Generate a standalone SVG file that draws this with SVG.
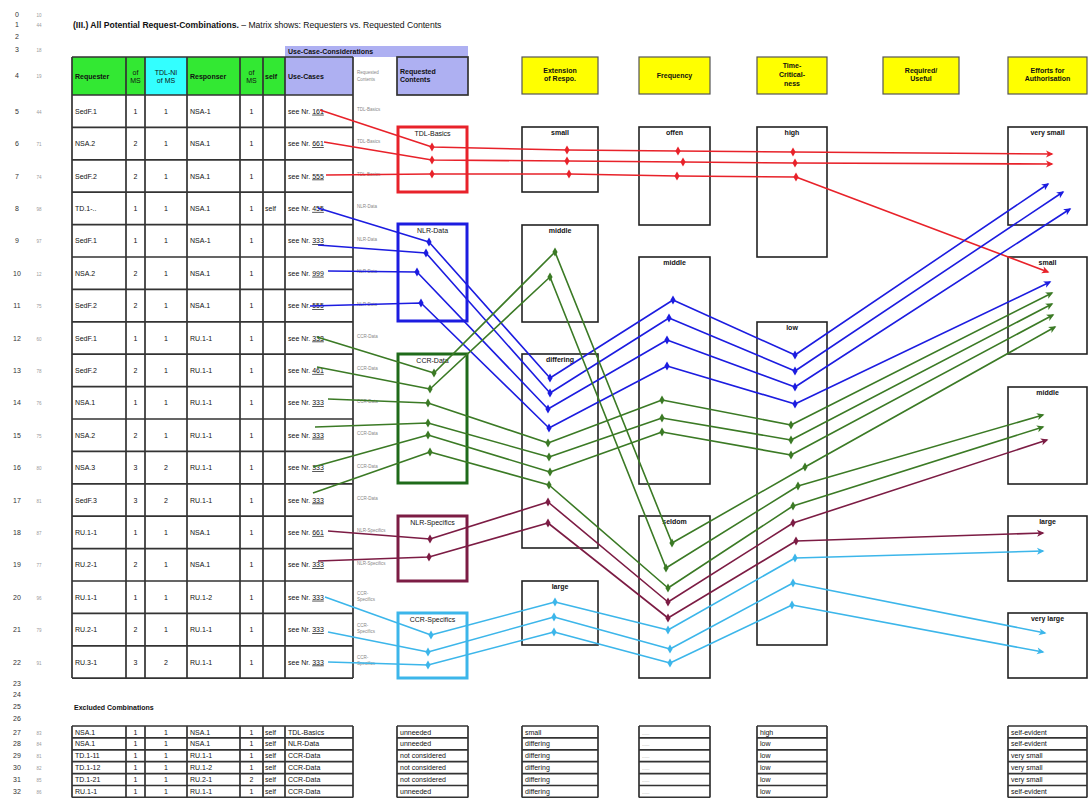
<svg xmlns="http://www.w3.org/2000/svg" width="1088" height="798" viewBox="0 0 1088 798">
<style>
text{font-family:"Liberation Sans",Arial,sans-serif;font-size:7px;fill:#111}
.b{font-weight:bold}
.c{text-anchor:middle}
.ttl{font-size:8.6px}
.rn{font-size:7px;fill:#333;text-anchor:middle}
.rg{font-size:4.5px;fill:#999;text-anchor:middle}
.gs{font-size:4.5px;fill:#888}
.grid{fill:none;stroke:#333;stroke-width:1.7}
.box{fill:#fff;stroke:#222;stroke-width:1.6}
.hd{fill:#ffff00;stroke:#555;stroke-width:1.2}
.u{text-decoration:underline}
.l{fill:none;stroke-width:1.6;stroke-linejoin:round}
.red{stroke:#e8222a}.blu{stroke:#1c1ce0}.grn{stroke:#3b7a25}.mar{stroke:#7c1c44}.cya{stroke:#3cb6ea}
</style>
<defs>
<marker id="dR" viewBox="-3 -5 6 10" markerWidth="6" markerHeight="10" orient="0" markerUnits="userSpaceOnUse"><path d="M0,-4.5L2.6,0L0,4.5L-2.6,0z" fill="#e8222a"/></marker>
<marker id="dB" viewBox="-3 -5 6 10" markerWidth="6" markerHeight="10" orient="0" markerUnits="userSpaceOnUse"><path d="M0,-4.5L2.6,0L0,4.5L-2.6,0z" fill="#1c1ce0"/></marker>
<marker id="dG" viewBox="-3 -5 6 10" markerWidth="6" markerHeight="10" orient="0" markerUnits="userSpaceOnUse"><path d="M0,-4.5L2.6,0L0,4.5L-2.6,0z" fill="#3b7a25"/></marker>
<marker id="dM" viewBox="-3 -5 6 10" markerWidth="6" markerHeight="10" orient="0" markerUnits="userSpaceOnUse"><path d="M0,-4.5L2.6,0L0,4.5L-2.6,0z" fill="#7c1c44"/></marker>
<marker id="dC" viewBox="-3 -5 6 10" markerWidth="6" markerHeight="10" orient="0" markerUnits="userSpaceOnUse"><path d="M0,-4.5L2.6,0L0,4.5L-2.6,0z" fill="#3cb6ea"/></marker>
<marker id="aR" viewBox="-7 -4 9 8" markerWidth="9" markerHeight="8" orient="auto" markerUnits="userSpaceOnUse"><path d="M-6,-3.5L1.5,0L-6,3.5L-4,0z" fill="#e8222a"/></marker>
<marker id="aB" viewBox="-7 -4 9 8" markerWidth="9" markerHeight="8" orient="auto" markerUnits="userSpaceOnUse"><path d="M-6,-3.5L1.5,0L-6,3.5L-4,0z" fill="#1c1ce0"/></marker>
<marker id="aG" viewBox="-7 -4 9 8" markerWidth="9" markerHeight="8" orient="auto" markerUnits="userSpaceOnUse"><path d="M-6,-3.5L1.5,0L-6,3.5L-4,0z" fill="#3b7a25"/></marker>
<marker id="aM" viewBox="-7 -4 9 8" markerWidth="9" markerHeight="8" orient="auto" markerUnits="userSpaceOnUse"><path d="M-6,-3.5L1.5,0L-6,3.5L-4,0z" fill="#7c1c44"/></marker>
<marker id="aC" viewBox="-7 -4 9 8" markerWidth="9" markerHeight="8" orient="auto" markerUnits="userSpaceOnUse"><path d="M-6,-3.5L1.5,0L-6,3.5L-4,0z" fill="#3cb6ea"/></marker>
</defs>
<rect width="1088" height="798" fill="#fff"/>

<g id="rownums">
<text class="rn" x="17" y="17">0</text><text class="rg" x="39" y="17">10</text>
<text class="rn" x="17" y="27">1</text><text class="rg" x="39" y="27">44</text>
<text class="rn" x="17" y="39">2</text>
<text class="rn" x="17" y="52">3</text><text class="rg" x="39" y="52">18</text>
<text class="rn" x="17" y="78">4</text><text class="rg" x="39" y="78">19</text>
<text class="rn" x="17" y="113.7">5</text><text class="rg" x="39" y="113.7">44</text>
<text class="rn" x="17" y="146.1">6</text><text class="rg" x="39" y="146.1">71</text>
<text class="rn" x="17" y="178.5">7</text><text class="rg" x="39" y="178.5">74</text>
<text class="rn" x="17" y="210.9">8</text><text class="rg" x="39" y="210.9">98</text>
<text class="rn" x="17" y="243.3">9</text><text class="rg" x="39" y="243.3">97</text>
<text class="rn" x="17" y="275.7">10</text><text class="rg" x="39" y="275.7">12</text>
<text class="rn" x="17" y="308.1">11</text><text class="rg" x="39" y="308.1">75</text>
<text class="rn" x="17" y="340.5">12</text><text class="rg" x="39" y="340.5">60</text>
<text class="rn" x="17" y="372.9">13</text><text class="rg" x="39" y="372.9">78</text>
<text class="rn" x="17" y="405.3">14</text><text class="rg" x="39" y="405.3">76</text>
<text class="rn" x="17" y="437.7">15</text><text class="rg" x="39" y="437.7">75</text>
<text class="rn" x="17" y="470.1">16</text><text class="rg" x="39" y="470.1">80</text>
<text class="rn" x="17" y="502.5">17</text><text class="rg" x="39" y="502.5">81</text>
<text class="rn" x="17" y="534.9">18</text><text class="rg" x="39" y="534.9">87</text>
<text class="rn" x="17" y="567.3">19</text><text class="rg" x="39" y="567.3">77</text>
<text class="rn" x="17" y="599.7">20</text><text class="rg" x="39" y="599.7">96</text>
<text class="rn" x="17" y="632.1">21</text><text class="rg" x="39" y="632.1">79</text>
<text class="rn" x="17" y="664.5">22</text><text class="rg" x="39" y="664.5">91</text>
<text class="rn" x="17" y="686">23</text>
<text class="rn" x="17" y="697">24</text>
<text class="rn" x="17" y="709">25</text>
<text class="rn" x="17" y="721">26</text>
<text class="rn" x="17" y="734.5">27</text><text class="rg" x="39" y="734.5">83</text>
<text class="rn" x="17" y="746.4">28</text><text class="rg" x="39" y="746.4">84</text>
<text class="rn" x="17" y="758.3">29</text><text class="rg" x="39" y="758.3">81</text>
<text class="rn" x="17" y="770.2">30</text><text class="rg" x="39" y="770.2">82</text>
<text class="rn" x="17" y="782.1">31</text><text class="rg" x="39" y="782.1">85</text>
<text class="rn" x="17" y="794">32</text><text class="rg" x="39" y="794">86</text>
</g>

<g id="title">
<text class="ttl" x="73" y="28"><tspan class="b">(III.) All Potential Request-Combinations.</tspan>   – Matrix shows: Requesters vs. Requested Contents</text>
</g>

<g id="header">
<rect x="285" y="46" width="183" height="11" fill="#aeb0f2"/>
<text class="b" x="288" y="54">Use-Case-Considerations</text>
<rect x="72" y="57" width="54" height="38" fill="#33e833"/>
<rect x="126" y="57" width="19" height="38" fill="#33e833"/>
<rect x="145" y="57" width="42" height="38" fill="#33ffff"/>
<rect x="187" y="57" width="53" height="38" fill="#33e833"/>
<rect x="240" y="57" width="23" height="38" fill="#33e833"/>
<rect x="263" y="57" width="22" height="38" fill="#33e833"/>
<rect x="285" y="57" width="68" height="38" fill="#aeb0f2"/>
<rect x="397" y="57" width="71" height="38" fill="#aeb0f2" stroke="#333" stroke-width="1.7"/>
<path class="grid" d="M72,57H353M72,57V95M126,57V95M145,57V95M187,57V95M240,57V95M263,57V95M285,57V95M353,57V95"/>
<text class="b" x="75" y="78.5">Requester</text>
<text class="c" x="135.5" y="75">of</text><text class="c" x="135.5" y="83">MS</text>
<text class="c" x="166" y="75" fill="#333">TDL-NI</text><text class="c" x="166" y="83" fill="#333">of MS</text>
<text class="b" x="190" y="78.5">Responser</text>
<text class="c" x="251.5" y="75">of</text><text class="c" x="251.5" y="83">MS</text>
<text class="b" x="265" y="78.5">self</text>
<text class="b" x="288" y="78.5">Use-Cases</text>
<text class="gs" x="357" y="74">Requested</text><text class="gs" x="357" y="81">Contents</text>
<text class="b" x="400" y="74">Requested</text><text class="b" x="400" y="82">Contents</text>
</g>

<g id="table">
<path class="grid" d="M72,95V678M126,95V678M145,95V678M187,95V678M240,95V678M263,95V678M285,95V678M353,95V678
M72,95H353M72,127.4H353M72,159.8H353M72,192.2H353M72,224.6H353M72,257H353M72,289.4H353M72,321.8H353M72,354.2H353M72,386.6H353M72,419H353M72,451.4H353M72,483.8H353M72,516.2H353M72,548.6H353M72,581H353M72,613.4H353M72,645.8H353M72,678.2H353"/>
<g>
<text x="75" y="113.7">SedF.1</text><text class="c" x="135.5" y="113.7">1</text><text class="c" x="166" y="113.7">1</text><text x="190" y="113.7">NSA-1</text><text class="c" x="251.5" y="113.7">1</text><text x="288" y="113.7">see Nr. <tspan class="u">161</tspan></text>
<text x="75" y="146.1">NSA.2</text><text class="c" x="135.5" y="146.1">2</text><text class="c" x="166" y="146.1">1</text><text x="190" y="146.1">NSA.1</text><text class="c" x="251.5" y="146.1">1</text><text x="288" y="146.1">see Nr. <tspan class="u">661</tspan></text>
<text x="75" y="178.5">SedF.2</text><text class="c" x="135.5" y="178.5">2</text><text class="c" x="166" y="178.5">1</text><text x="190" y="178.5">NSA.1</text><text class="c" x="251.5" y="178.5">1</text><text x="288" y="178.5">see Nr. <tspan class="u">555</tspan></text>
<text x="75" y="210.9">TD.1-..</text><text class="c" x="135.5" y="210.9">1</text><text class="c" x="166" y="210.9">1</text><text x="190" y="210.9">NSA.1</text><text class="c" x="251.5" y="210.9">1</text><text x="265" y="210.9">self</text><text x="288" y="210.9">see Nr. <tspan class="u">455</tspan></text>
<text x="75" y="243.3">SedF.1</text><text class="c" x="135.5" y="243.3">1</text><text class="c" x="166" y="243.3">1</text><text x="190" y="243.3">NSA-1</text><text class="c" x="251.5" y="243.3">1</text><text x="288" y="243.3">see Nr. <tspan class="u">333</tspan></text>
<text x="75" y="275.7">NSA.2</text><text class="c" x="135.5" y="275.7">2</text><text class="c" x="166" y="275.7">1</text><text x="190" y="275.7">NSA.1</text><text class="c" x="251.5" y="275.7">1</text><text x="288" y="275.7">see Nr. <tspan class="u">999</tspan></text>
<text x="75" y="308.1">SedF.2</text><text class="c" x="135.5" y="308.1">2</text><text class="c" x="166" y="308.1">1</text><text x="190" y="308.1">NSA.1</text><text class="c" x="251.5" y="308.1">1</text><text x="288" y="308.1">see Nr. <tspan class="u">555</tspan></text>
<text x="75" y="340.5">SedF.1</text><text class="c" x="135.5" y="340.5">1</text><text class="c" x="166" y="340.5">1</text><text x="190" y="340.5">RU.1-1</text><text class="c" x="251.5" y="340.5">1</text><text x="288" y="340.5">see Nr. <tspan class="u">333</tspan></text>
<text x="75" y="372.9">SedF.2</text><text class="c" x="135.5" y="372.9">2</text><text class="c" x="166" y="372.9">1</text><text x="190" y="372.9">RU.1-1</text><text class="c" x="251.5" y="372.9">1</text><text x="288" y="372.9">see Nr. <tspan class="u">461</tspan></text>
<text x="75" y="405.3">NSA.1</text><text class="c" x="135.5" y="405.3">1</text><text class="c" x="166" y="405.3">1</text><text x="190" y="405.3">RU.1-1</text><text class="c" x="251.5" y="405.3">1</text><text x="288" y="405.3">see Nr. <tspan class="u">333</tspan></text>
<text x="75" y="437.7">NSA.2</text><text class="c" x="135.5" y="437.7">2</text><text class="c" x="166" y="437.7">1</text><text x="190" y="437.7">RU.1-1</text><text class="c" x="251.5" y="437.7">1</text><text x="288" y="437.7">see Nr. <tspan class="u">333</tspan></text>
<text x="75" y="470.1">NSA.3</text><text class="c" x="135.5" y="470.1">3</text><text class="c" x="166" y="470.1">2</text><text x="190" y="470.1">RU.1-1</text><text class="c" x="251.5" y="470.1">1</text><text x="288" y="470.1">see Nr. <tspan class="u">333</tspan></text>
<text x="75" y="502.5">SedF.3</text><text class="c" x="135.5" y="502.5">3</text><text class="c" x="166" y="502.5">2</text><text x="190" y="502.5">RU.1-1</text><text class="c" x="251.5" y="502.5">1</text><text x="288" y="502.5">see Nr. <tspan class="u">333</tspan></text>
<text x="75" y="534.9">RU.1-1</text><text class="c" x="135.5" y="534.9">1</text><text class="c" x="166" y="534.9">1</text><text x="190" y="534.9">NSA.1</text><text class="c" x="251.5" y="534.9">1</text><text x="288" y="534.9">see Nr. <tspan class="u">661</tspan></text>
<text x="75" y="567.3">RU.2-1</text><text class="c" x="135.5" y="567.3">2</text><text class="c" x="166" y="567.3">1</text><text x="190" y="567.3">NSA.1</text><text class="c" x="251.5" y="567.3">1</text><text x="288" y="567.3">see Nr. <tspan class="u">333</tspan></text>
<text x="75" y="599.7">RU.1-1</text><text class="c" x="135.5" y="599.7">1</text><text class="c" x="166" y="599.7">1</text><text x="190" y="599.7">RU.1-2</text><text class="c" x="251.5" y="599.7">1</text><text x="288" y="599.7">see Nr. <tspan class="u">333</tspan></text>
<text x="75" y="632.1">RU.2-1</text><text class="c" x="135.5" y="632.1">2</text><text class="c" x="166" y="632.1">1</text><text x="190" y="632.1">RU.1-1</text><text class="c" x="251.5" y="632.1">1</text><text x="288" y="632.1">see Nr. <tspan class="u">333</tspan></text>
<text x="75" y="664.5">RU.3-1</text><text class="c" x="135.5" y="664.5">3</text><text class="c" x="166" y="664.5">2</text><text x="190" y="664.5">RU.1-1</text><text class="c" x="251.5" y="664.5">1</text><text x="288" y="664.5">see Nr. <tspan class="u">333</tspan></text>
</g>
<g>
<text class="gs" x="357" y="111">TDL-Basics</text>
<text class="gs" x="357" y="143">TDL-Basics</text>
<text class="gs" x="357" y="176">TDL-Basics</text>
<text class="gs" x="357" y="208">NLR-Data</text>
<text class="gs" x="357" y="241">NLR-Data</text>
<text class="gs" x="357" y="273">NLR-Data</text>
<text class="gs" x="357" y="306">NLR-Data</text>
<text class="gs" x="357" y="338">CCR-Data</text>
<text class="gs" x="357" y="370">CCR-Data</text>
<text class="gs" x="357" y="403">CCR-Data</text>
<text class="gs" x="357" y="435">CCR-Data</text>
<text class="gs" x="357" y="468">CCR-Data</text>
<text class="gs" x="357" y="500">CCR-Data</text>
<text class="gs" x="357" y="532">NLR-Specifics</text>
<text class="gs" x="357" y="565">NLR-Specifics</text>
<text class="gs" x="357" y="595">CCR-</text><text class="gs" x="357" y="601">Specifics</text>
<text class="gs" x="357" y="627">CCR-</text><text class="gs" x="357" y="633">Specifics</text>
<text class="gs" x="357" y="659">CCR-</text><text class="gs" x="357" y="665">Specifics</text>
</g>
</g>

<g id="rc-tdl"><rect x="398" y="127" width="69" height="65" fill="none" stroke="#e8222a" stroke-width="3"/><text class="c" x="432.5" y="136" fill="#e8222a">TDL-Basics</text></g>
<g id="rc-nlr"><rect x="398" y="224" width="69" height="97" fill="none" stroke="#1c1ce0" stroke-width="3"/><text class="c" x="432.5" y="233" fill="#1c1ce0">NLR-Data</text></g>
<g id="rc-ccr"><rect x="398" y="354" width="69" height="129" fill="none" stroke="#1f6b1a" stroke-width="3"/><text class="c" x="432.5" y="363" fill="#1f6b1a">CCR-Data</text></g>
<g id="rc-nlrs"><rect x="398" y="516" width="69" height="65" fill="none" stroke="#7c1c44" stroke-width="3"/><text class="c" x="432.5" y="525" fill="#7c1c44">NLR-Specifics</text></g>
<g id="rc-ccrs"><rect x="398" y="613" width="69" height="65" fill="none" stroke="#3cb6ea" stroke-width="3"/><text class="c" x="432.5" y="622" fill="#3cb6ea">CCR-Specifics</text></g>

<g id="h-ext"><rect class="hd" x="522" y="57" width="76" height="37"/><text class="b c" x="560" y="73">Extension</text><text class="b c" x="560" y="81">of Respo.</text></g>
<g id="h-freq"><rect class="hd" x="639" y="57" width="71" height="37"/><text class="b c" x="674.5" y="78">Frequency</text></g>
<g id="h-time"><rect class="hd" x="757" y="57" width="70" height="37"/><text class="b c" x="792" y="68">Time-</text><text class="b c" x="792" y="77">Critical-</text><text class="b c" x="792" y="86">ness</text></g>
<g id="h-req"><rect class="hd" x="883" y="57" width="76" height="37"/><text class="b c" x="921" y="73">Required/</text><text class="b c" x="921" y="81">Useful</text></g>
<g id="h-eff"><rect class="hd" x="1008" y="57" width="79" height="37"/><text class="b c" x="1047.5" y="73">Efforts for</text><text class="b c" x="1047.5" y="81">Authorisation</text></g>

<g id="ext-small"><rect class="box" x="522" y="127" width="76" height="65"/><text class="b c" x="560" y="135">small</text></g>
<g id="ext-middle"><rect class="box" x="522" y="225" width="76" height="97"/><text class="b c" x="560" y="233">middle</text></g>
<g id="ext-diff"><rect class="box" x="522" y="354" width="76" height="194"/><text class="b c" x="560" y="362">differing</text></g>
<g id="ext-large"><rect class="box" x="522" y="581" width="76" height="64"/><text class="b c" x="560" y="589">large</text></g>
<g id="fr-offen"><rect class="box" x="639" y="127" width="71" height="98"/><text class="b c" x="674.5" y="135">offen</text></g>
<g id="fr-middle"><rect class="box" x="639" y="257" width="71" height="227"/><text class="b c" x="674.5" y="265">middle</text></g>
<g id="fr-seldom"><rect class="box" x="639" y="516" width="71" height="162"/><text class="b c" x="674.5" y="524">seldom</text></g>
<g id="tc-high"><rect class="box" x="757" y="127" width="70" height="130"/><text class="b c" x="792" y="135">high</text></g>
<g id="tc-low"><rect class="box" x="757" y="322" width="70" height="323"/><text class="b c" x="792" y="330">low</text></g>
<g id="ef-vsmall"><rect class="box" x="1008" y="127" width="79" height="98"/><text class="b c" x="1047.5" y="135">very small</text></g>
<g id="ef-small"><rect class="box" x="1008" y="257" width="79" height="97"/><text class="b c" x="1047.5" y="265">small</text></g>
<g id="ef-middle"><rect class="box" x="1008" y="387" width="79" height="97"/><text class="b c" x="1047.5" y="395">middle</text></g>
<g id="ef-large"><rect class="box" x="1008" y="516" width="79" height="65"/><text class="b c" x="1047.5" y="524">large</text></g>
<g id="ef-vlarge"><rect class="box" x="1008" y="613" width="79" height="65"/><text class="b c" x="1047.5" y="621">very large</text></g>

<g id="connectors">
<polyline class="l red" marker-mid="url(#dR)" marker-end="url(#aR)" points="320,110 432,147 567,150 678,151 793,152 1052,154"/>
<polyline class="l red" marker-mid="url(#dR)" marker-end="url(#aR)" points="324,142 432,160 567,161 683,162 795,163 1052,164"/>
<polyline class="l red" marker-mid="url(#dR)" marker-end="url(#aR)" points="326,175 432,174 569,174 677,176 796,177 1048,272"/>
<polyline class="l blu" marker-mid="url(#dB)" marker-end="url(#aB)" points="318,208 429,242 550,378 673,300 795,355 1048,184"/>
<polyline class="l blu" marker-mid="url(#dB)" marker-end="url(#aB)" points="318,245 426,253 550,393 669,318 795,371 1063,192"/>
<polyline class="l blu" marker-mid="url(#dB)" marker-end="url(#aB)" points="328,271 417,272 548,409 667,340 795,387 1070,209"/>
<polyline class="l blu" marker-mid="url(#dB)" marker-end="url(#aB)" points="310,306 421,303 549,428 667,366 795,404 1050,282"/>
<polyline class="l grn" marker-mid="url(#dG)" marker-end="url(#aG)" points="317,337 434,373 555,252 672,543 805,467 1055,327"/>
<polyline class="l grn" marker-mid="url(#dG)" marker-end="url(#aG)" points="317,367 430,389 550,277 666,568 798,486 1043,415"/>
<polyline class="l grn" marker-mid="url(#dG)" marker-end="url(#aG)" points="328,399 428,403 548,443 662,400 791,425 1052,293"/>
<polyline class="l grn" marker-mid="url(#dG)" marker-end="url(#aG)" points="315,427 428,423 549,457 662,418 791,440 1052,304"/>
<polyline class="l grn" marker-mid="url(#dG)" marker-end="url(#aG)" points="313,467 428,435 550,472 662,432 791,455 1053,315"/>
<polyline class="l grn" marker-mid="url(#dG)" marker-end="url(#aG)" points="313,493 430,452 549,485 668,588 793,506 1043,427"/>
<polyline class="l mar" marker-mid="url(#dM)" marker-end="url(#aM)" points="328,531 430,539 548,502 668,602 793,523 1047,440"/>
<polyline class="l mar" marker-mid="url(#dM)" marker-end="url(#aM)" points="318,561 429,557 548,523 668,618 796,541 1043,533"/>
<polyline class="l cya" marker-mid="url(#dC)" marker-end="url(#aC)" points="325,597 431,635 555,602 668,630 795,558 1043,551"/>
<polyline class="l cya" marker-mid="url(#dC)" marker-end="url(#aC)" points="328,632 428,652 554,617 670,649 793,583 1045,633"/>
<polyline class="l cya" marker-mid="url(#dC)" marker-end="url(#aC)" points="328,662 428,665 554,632 670,663 792,605 1043,652"/>
</g>

<g id="excluded">
<text class="b" x="74" y="710">Excluded Combinations</text>
<path class="grid" d="M72,726H353M72,737.9H353M72,749.8H353M72,761.7H353M72,773.6H353M72,785.5H353M72,797.4H353M72,726V797.4M126,726V797.4M145,726V797.4M187,726V797.4M240,726V797.4M263,726V797.4M285,726V797.4M353,726V797.4
M397,726H468M397,737.9H468M397,749.8H468M397,761.7H468M397,773.6H468M397,785.5H468M397,797.4H468M397,726V797.4M468,726V797.4
M522,726H598M522,737.9H598M522,749.8H598M522,761.7H598M522,773.6H598M522,785.5H598M522,797.4H598M522,726V797.4M598,726V797.4
M639,726H710M639,737.9H710M639,749.8H710M639,761.7H710M639,773.6H710M639,785.5H710M639,797.4H710M639,726V797.4M710,726V797.4
M757,726H827M757,737.9H827M757,749.8H827M757,761.7H827M757,773.6H827M757,785.5H827M757,797.4H827M757,726V797.4M827,726V797.4
M1008,726H1087M1008,737.9H1087M1008,749.8H1087M1008,761.7H1087M1008,773.6H1087M1008,785.5H1087M1008,797.4H1087M1008,726V797.4M1087,726V797.4"/>
<text x="75" y="734.5">NSA.1</text><text class="c" x="135.5" y="734.5">1</text><text class="c" x="166" y="734.5">1</text><text x="190" y="734.5">NSA.1</text><text class="c" x="251.5" y="734.5">1</text><text x="265" y="734.5">self</text><text x="288" y="734.5">TDL-Basics</text><text x="400" y="734.5">unneeded</text><text x="525" y="734.5">small</text><text class="gs" x="642" y="734.5">......</text><text x="760" y="734.5">high</text><text x="1011" y="734.5">self-evident</text>
<text x="75" y="746.4">NSA.1</text><text class="c" x="135.5" y="746.4">1</text><text class="c" x="166" y="746.4">1</text><text x="190" y="746.4">NSA.1</text><text class="c" x="251.5" y="746.4">1</text><text x="265" y="746.4">self</text><text x="288" y="746.4">NLR-Data</text><text x="400" y="746.4">unneeded</text><text x="525" y="746.4">differing</text><text class="gs" x="642" y="746.4">......</text><text x="760" y="746.4">low</text><text x="1011" y="746.4">self-evident</text>
<text x="75" y="758.3">TD.1-11</text><text class="c" x="135.5" y="758.3">1</text><text class="c" x="166" y="758.3">1</text><text x="190" y="758.3">RU.1-1</text><text class="c" x="251.5" y="758.3">1</text><text x="265" y="758.3">self</text><text x="288" y="758.3">CCR-Data</text><text x="400" y="758.3">not considered</text><text x="525" y="758.3">differing</text><text class="gs" x="642" y="758.3">......</text><text x="760" y="758.3">low</text><text x="1011" y="758.3">very small</text>
<text x="75" y="770.2">TD.1-12</text><text class="c" x="135.5" y="770.2">1</text><text class="c" x="166" y="770.2">1</text><text x="190" y="770.2">RU.1-2</text><text class="c" x="251.5" y="770.2">1</text><text x="265" y="770.2">self</text><text x="288" y="770.2">CCR-Data</text><text x="400" y="770.2">not considered</text><text x="525" y="770.2">differing</text><text class="gs" x="642" y="770.2">......</text><text x="760" y="770.2">low</text><text x="1011" y="770.2">very small</text>
<text x="75" y="782.1">TD.1-21</text><text class="c" x="135.5" y="782.1">1</text><text class="c" x="166" y="782.1">1</text><text x="190" y="782.1">RU.2-1</text><text class="c" x="251.5" y="782.1">2</text><text x="265" y="782.1">self</text><text x="288" y="782.1">CCR-Data</text><text x="400" y="782.1">not considered</text><text x="525" y="782.1">differing</text><text class="gs" x="642" y="782.1">......</text><text x="760" y="782.1">low</text><text x="1011" y="782.1">very small</text>
<text x="75" y="794">RU.1-1</text><text class="c" x="135.5" y="794">1</text><text class="c" x="166" y="794">1</text><text x="190" y="794">RU.1-1</text><text class="c" x="251.5" y="794">1</text><text x="265" y="794">self</text><text x="288" y="794">CCR-Data</text><text x="400" y="794">unneeded</text><text x="525" y="794">differing</text><text class="gs" x="642" y="794">......</text><text x="760" y="794">low</text><text x="1011" y="794">self-evident</text>
</g>
</svg>
